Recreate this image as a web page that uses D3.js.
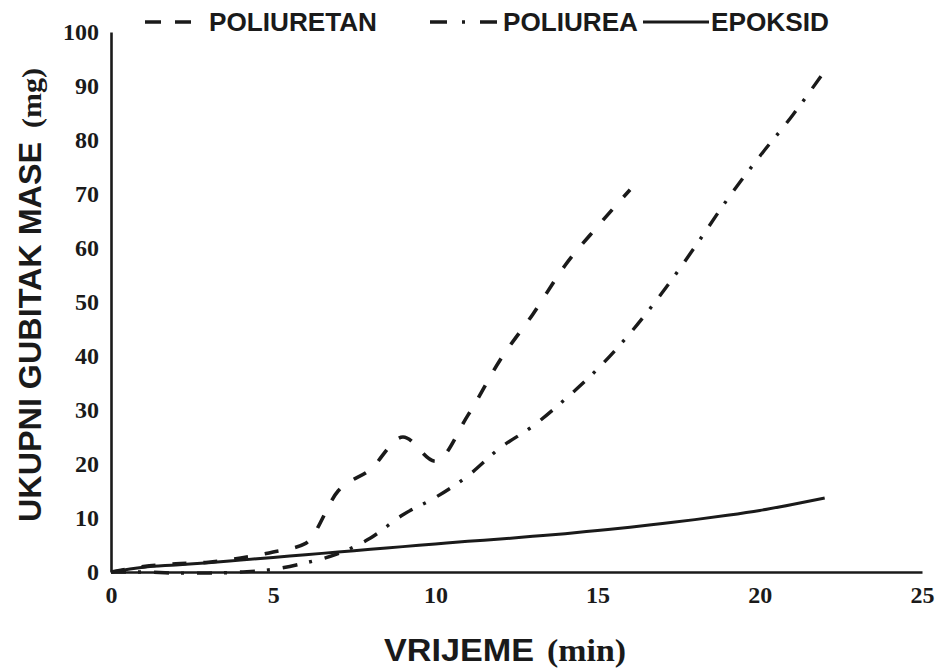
<!DOCTYPE html>
<html>
<head>
<meta charset="utf-8">
<script src="https://cdn.jsdelivr.net/npm/d3@7"></script>
<style>
  body { margin: 0; background: #fff; }
  .axis text { font-family: "Liberation Serif", "Times New Roman", serif; font-weight: bold; font-size: 24px; fill: #1a1a1a; }
  .axis path { stroke: #1a1a1a; stroke-width: 2.6px; }
  .line { fill: none; stroke: #1a1a1a; }
</style>
</head>
<body>
<div id="chart"></div>
<script>
const minutes    = [0, 1, 2, 3, 4, 5, 6, 7, 8, 9, 10, 11, 12, 13, 14, 15, 16, 17, 18, 19, 20, 21, 22];
const poliuretan = [0, 1, 1.5, 1.8, 2.6, 3.7, 5.3, 15, 19, 25, 20.5, 29, 39.3, 47.7, 56.8, 64, 70.8];
const poliurea   = [0, 0, -0.2, -0.2, 0, 0.5, 1.7, 3.4, 6.3, 10.6, 13.8, 17.8, 23, 27, 32, 37.6, 44.2, 51.8, 60.2, 69, 77, 84.5, 92.8];
const epoksid    = [0, 0.9, 1.3, 1.7, 2.2, 2.7, 3.2, 3.7, 4.2, 4.7, 5.2, 5.7, 6.1, 6.6, 7.1, 7.7, 8.3, 9, 9.7, 10.5, 11.4, 12.5, 13.7];
const xTicks = [0, 5, 10, 15, 20, 25];
const yTicks = [0, 10, 20, 30, 40, 50, 60, 70, 80, 90, 100];

const width = 936, height = 671;

const svg = d3.select("#chart")
  .append("svg")
  .attr("width", width)
  .attr("height", height);

const x = d3.scaleLinear().domain([0, 25]).range([111, 922]);
const y = d3.scaleLinear().domain([0, 100]).range([572, 32]);

svg.append("g")
  .attr("class", "axis")
  .attr("transform", `translate(0,${y(0)})`)
  .call(d3.axisBottom(x).tickValues(xTicks).tickSize(0).tickPadding(14))
  .call(g => g.selectAll(".tick text").attr("dy", "0.71em"));

svg.append("g")
  .attr("class", "axis")
  .attr("transform", `translate(${x(0)},0)`)
  .call(d3.axisLeft(y).tickValues(yTicks).tickSize(0).tickPadding(12));

const series = [
  { name: "POLIURETAN", values: poliuretan, dash: "14,17", width: 3.6 },
  { name: "POLIUREA", values: poliurea, dash: "15,12,3,13", width: 3.4 },
  { name: "EPOKSID", values: epoksid, dash: null, width: 3 }
];

const line = d3.line()
  .x(d => x(d[0]))
  .y(d => y(d[1]))
  .curve(d3.curveMonotoneX);

series.forEach(s => {
  svg.append("path")
    .attr("class", "line")
    .attr("d", line(s.values.map((v, i) => [minutes[i], v])))
    .attr("stroke-width", s.width)
    .attr("stroke-dasharray", s.dash);
});

// legend
const legend = [
  { x1: 145, x2: 191, tx: 209, tw: 168 },
  { x1: 430, x2: 497, tx: 503, tw: 135 },
  { x1: 643, x2: 709, tx: 711, tw: 118 }
];
series.forEach((s, i) => {
  const l = legend[i];
  svg.append("line")
    .attr("class", "line")
    .attr("x1", l.x1).attr("x2", l.x2)
    .attr("y1", 22).attr("y2", 22)
    .attr("stroke-width", s.width)
    .attr("stroke-dasharray", i === 0 ? "16,14" : (i === 1 ? "17,15,3,15" : null));
  svg.append("text")
    .attr("x", l.tx).attr("y", 31)
    .attr("textLength", l.tw)
    .attr("lengthAdjust", "spacingAndGlyphs")
    .style("font-family", "'Liberation Sans', Arial, sans-serif")
    .style("font-weight", "bold")
    .style("font-size", "25px")
    .style("fill", "#1a1a1a")
    .text(s.name);
});

// axis titles
const sans = "'Liberation Sans', Arial, sans-serif";
const serif = "'Liberation Serif', 'Times New Roman', serif";

svg.append("text")
  .attr("transform", "translate(41,522) rotate(-90)")
  .attr("textLength", 380)
  .attr("lengthAdjust", "spacingAndGlyphs")
  .style("font-family", sans).style("font-weight", "bold").style("font-size", "31px")
  .style("fill", "#1a1a1a")
  .text("UKUPNI GUBITAK MASE");

svg.append("text")
  .attr("transform", "translate(41,128) rotate(-90)")
  .attr("textLength", 60)
  .attr("lengthAdjust", "spacingAndGlyphs")
  .style("font-family", serif).style("font-weight", "bold").style("font-size", "28px")
  .style("fill", "#1a1a1a")
  .text("(mg)");

svg.append("text")
  .attr("x", 384).attr("y", 661)
  .attr("textLength", 150)
  .attr("lengthAdjust", "spacingAndGlyphs")
  .style("font-family", sans).style("font-weight", "bold").style("font-size", "31px")
  .style("fill", "#1a1a1a")
  .text("VRIJEME");

svg.append("text")
  .attr("x", 547).attr("y", 661)
  .attr("textLength", 79)
  .attr("lengthAdjust", "spacingAndGlyphs")
  .style("font-family", serif).style("font-weight", "bold").style("font-size", "31px")
  .style("fill", "#1a1a1a")
  .text("(min)");
</script>
</body>
</html>
